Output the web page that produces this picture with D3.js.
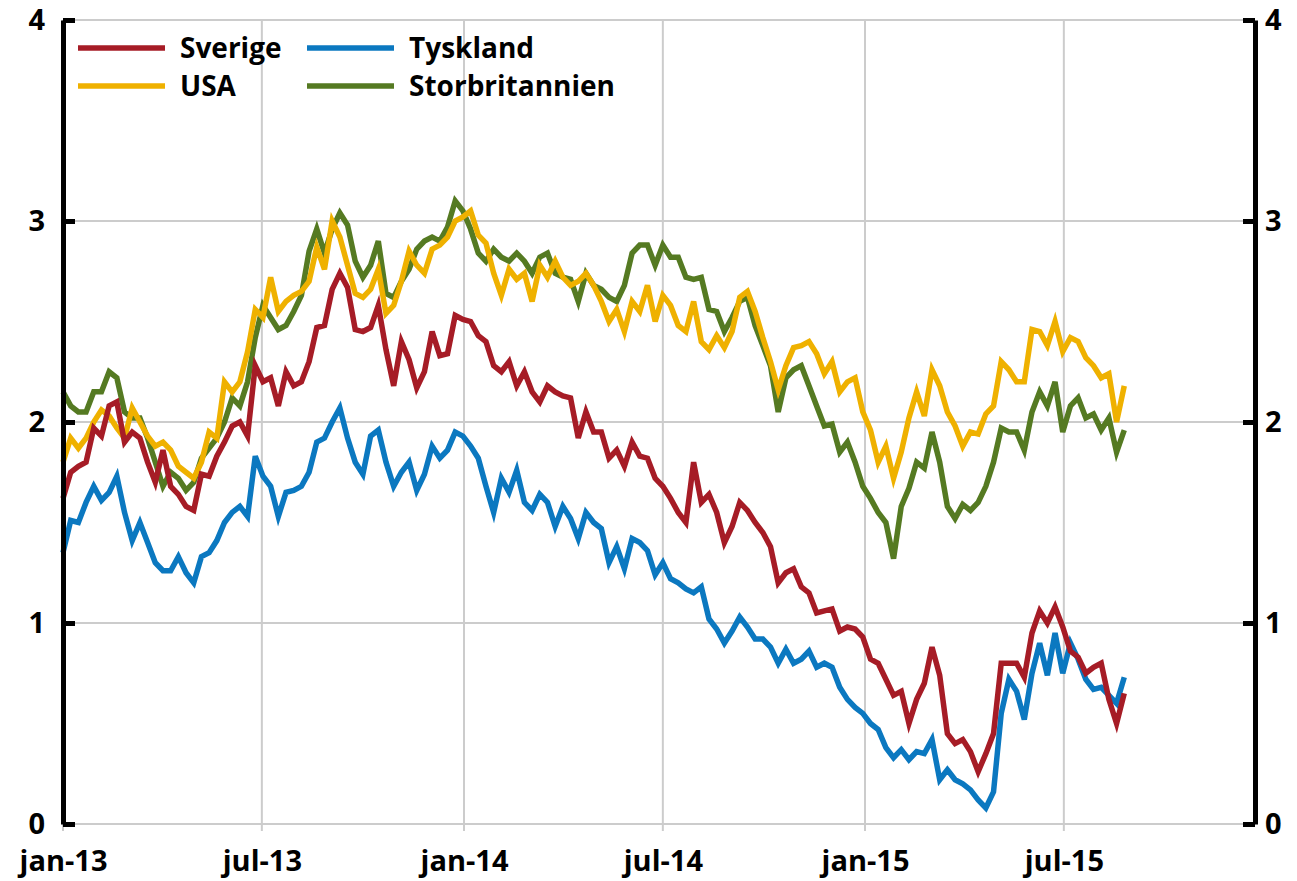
<!DOCTYPE html>
<html>
<head>
<meta charset="utf-8">
<title>Statsobligationsräntor 10 år</title>
<script src="https://cdnjs.cloudflare.com/ajax/libs/d3/7.8.5/d3.min.js"></script>
<style>
  body { margin: 0; background: #fff; }
  text { font-family: "Open Sans", sans-serif; font-weight: 700; fill: #000; }
</style>
</head>
<body>
<div id="chart"></div>
<script>
// weekly observations, starting jan 2013
var startDate = new Date(2013, 0, 1);

var sverige = [
  1.62, 1.75, 1.78, 1.8, 1.97, 1.93, 2.08, 2.1, 1.9, 1.95, 1.92, 1.8, 1.7,
  1.86, 1.68, 1.64, 1.58, 1.56, 1.74, 1.73, 1.83, 1.9, 1.98, 2.0, 1.93, 2.28,
  2.2, 2.22, 2.08, 2.25, 2.18, 2.2, 2.3, 2.47, 2.48, 2.66, 2.74, 2.67, 2.46,
  2.45, 2.47, 2.58, 2.36, 2.18, 2.4, 2.31, 2.17, 2.25, 2.45, 2.33, 2.34, 2.53,
  2.51, 2.5, 2.43, 2.4, 2.28, 2.25, 2.3, 2.18, 2.25, 2.15, 2.1, 2.18, 2.15,
  2.13, 2.12, 1.92, 2.05, 1.95, 1.95, 1.82, 1.86, 1.78, 1.9, 1.83, 1.82, 1.72,
  1.68, 1.62, 1.55, 1.5, 1.8, 1.6, 1.64, 1.55, 1.4, 1.48, 1.6, 1.56, 1.5,
  1.45, 1.38, 1.2, 1.25, 1.27, 1.18, 1.15, 1.05, 1.06, 1.07, 0.96, 0.98, 0.97,
  0.93, 0.82, 0.8, 0.72, 0.64, 0.66, 0.5, 0.62, 0.7, 0.88, 0.74, 0.45, 0.4,
  0.42, 0.36, 0.26, 0.35, 0.45, 0.8, 0.8, 0.8, 0.73, 0.95, 1.06, 1.0, 1.08,
  0.98, 0.86, 0.83, 0.75, 0.78, 0.8, 0.62, 0.5, 0.65
];

var tyskland = [
  1.35, 1.51, 1.5, 1.6, 1.68, 1.61, 1.65, 1.73, 1.55, 1.41, 1.5, 1.4, 1.3,
  1.26, 1.26, 1.33, 1.25, 1.2, 1.33, 1.35, 1.41, 1.5, 1.55, 1.58, 1.53, 1.83,
  1.73, 1.68, 1.53, 1.65, 1.66, 1.68, 1.75, 1.9, 1.92, 2.0, 2.07, 1.92, 1.8,
  1.74, 1.93, 1.96, 1.8, 1.68, 1.75, 1.8, 1.66, 1.74, 1.88, 1.82, 1.86, 1.95,
  1.93, 1.88, 1.82, 1.68, 1.55, 1.72, 1.65, 1.76, 1.6, 1.56, 1.64, 1.6, 1.48,
  1.58, 1.52, 1.42, 1.55, 1.5, 1.47, 1.3, 1.38, 1.27, 1.42, 1.4, 1.36, 1.24,
  1.3, 1.22, 1.2, 1.17, 1.15, 1.18, 1.02, 0.97, 0.9, 0.96, 1.03, 0.98, 0.92,
  0.92, 0.88, 0.8, 0.87, 0.8, 0.82, 0.86, 0.78, 0.8, 0.78, 0.68, 0.62, 0.58,
  0.55, 0.5, 0.47, 0.38, 0.33, 0.37, 0.32, 0.36, 0.35, 0.42, 0.22, 0.27, 0.22,
  0.2, 0.17, 0.12, 0.08, 0.16, 0.55, 0.72, 0.66, 0.52, 0.75, 0.9, 0.74, 0.95,
  0.75, 0.9, 0.82, 0.72, 0.67, 0.68, 0.64, 0.6, 0.73
];

var usa = [
  1.8, 1.92, 1.87, 1.92, 2.0, 2.06, 2.03, 1.97, 1.92, 2.07, 2.0, 1.93, 1.88,
  1.9, 1.86, 1.78, 1.75, 1.72, 1.8, 1.95, 1.92, 2.2, 2.15, 2.2, 2.35, 2.56,
  2.52, 2.72, 2.55, 2.6, 2.63, 2.65, 2.7, 2.87, 2.76, 3.0, 2.92, 2.78, 2.64,
  2.62, 2.66, 2.76, 2.54, 2.58, 2.7, 2.85, 2.78, 2.74, 2.86, 2.88, 2.92, 3.0,
  3.02, 3.05, 2.93, 2.89, 2.74, 2.63, 2.76, 2.71, 2.74, 2.6, 2.78, 2.72, 2.8,
  2.72, 2.68, 2.7, 2.74, 2.68, 2.6, 2.5, 2.56, 2.45, 2.6, 2.55, 2.68, 2.5,
  2.63, 2.58, 2.48, 2.45, 2.6, 2.4, 2.36, 2.43, 2.37, 2.45, 2.62, 2.65, 2.55,
  2.42, 2.3, 2.16, 2.28, 2.37, 2.38, 2.4, 2.34, 2.24, 2.3, 2.15, 2.2, 2.22,
  2.05, 1.96, 1.8, 1.88, 1.72, 1.85, 2.02, 2.15, 2.03, 2.26, 2.18, 2.05, 1.98,
  1.88, 1.95, 1.94, 2.04, 2.08, 2.3, 2.26, 2.2, 2.2, 2.46, 2.45, 2.38, 2.5,
  2.35, 2.42, 2.4, 2.32, 2.28, 2.22, 2.24, 2.0, 2.18
];

var storbritannien = [
  2.15, 2.08, 2.05, 2.05, 2.15, 2.15, 2.25, 2.22, 2.05, 2.02, 2.02, 1.92, 1.8,
  1.68, 1.75, 1.72, 1.66, 1.7, 1.82, 1.87, 1.92, 2.0, 2.12, 2.08, 2.2, 2.42,
  2.58, 2.52, 2.46, 2.48, 2.55, 2.63, 2.85, 2.96, 2.84, 2.96, 3.04, 2.98, 2.8,
  2.72, 2.78, 2.9, 2.64, 2.62, 2.7, 2.76, 2.86, 2.9, 2.92, 2.9, 2.97, 3.1,
  3.05, 2.96, 2.84, 2.8, 2.86, 2.82, 2.8, 2.84, 2.8, 2.74, 2.82, 2.84, 2.74,
  2.72, 2.71, 2.6, 2.74, 2.68, 2.66, 2.62, 2.6, 2.68, 2.84, 2.88, 2.88, 2.78,
  2.88, 2.82, 2.82, 2.72, 2.71, 2.72, 2.56, 2.55, 2.45, 2.52, 2.6, 2.62, 2.48,
  2.38, 2.28, 2.05, 2.22, 2.26, 2.28, 2.18, 2.08, 1.98, 1.99, 1.85, 1.9, 1.8,
  1.68, 1.62, 1.55, 1.5, 1.32, 1.58, 1.67, 1.8, 1.77, 1.95, 1.8, 1.58, 1.52,
  1.59, 1.56, 1.6, 1.68, 1.8, 1.97, 1.95, 1.95, 1.86, 2.05, 2.15, 2.08, 2.2,
  1.95, 2.08, 2.12, 2.02, 2.04, 1.96, 2.02, 1.85, 1.96
];

var xTickDates = [new Date(2013,0,1), new Date(2013,6,1), new Date(2014,0,1),
                  new Date(2014,6,1), new Date(2015,0,1), new Date(2015,6,1)];
var xTickLabels = ["jan-13", "jul-13", "jan-14", "jul-14", "jan-15", "jul-15"];
var yTicks = [0, 1, 2, 3, 4];

var series = [
  {name: "Storbritannien", values: storbritannien, color: "#557a22"},
  {name: "USA", values: usa, color: "#efb100"},
  {name: "Tyskland", values: tyskland, color: "#0b78c0"},
  {name: "Sverige", values: sverige, color: "#a61c26"}
];

var margin = {top: 20, right: 42, bottom: 57, left: 63},
    width = 1297 - margin.left - margin.right,
    height = 881 - margin.top - margin.bottom;

var svg = d3.select("#chart")
  .append("svg")
    .attr("width", width + margin.left + margin.right)
    .attr("height", height + margin.top + margin.bottom)
  .append("g")
    .attr("transform", "translate(" + margin.left + "," + margin.top + ")");

var x = d3.scaleTime()
  .domain([startDate, new Date(2015, 11, 22)])
  .range([0, width]);

var y = d3.scaleLinear().domain([0, 4]).range([height, 0]);

// gridlines
svg.append("g")
  .selectAll("line.h")
  .data(yTicks)
  .enter().append("line")
    .attr("x1", 0).attr("x2", width)
    .attr("y1", d => y(d)).attr("y2", d => y(d))
    .attr("stroke", "#cccccc").attr("stroke-width", 2);

svg.append("g")
  .selectAll("line.v")
  .data(xTickDates)
  .enter().append("line")
    .attr("x1", d => x(d)).attr("x2", d => x(d))
    .attr("y1", 0).attr("y2", height + 7)
    .attr("stroke", "#cccccc").attr("stroke-width", 2);

// x labels
var xAxis = svg.append("g")
  .attr("transform", "translate(0," + height + ")")
  .call(d3.axisBottom(x).tickValues(xTickDates)
    .tickFormat((d, i) => xTickLabels[i]).tickSize(0).tickPadding(26));
xAxis.select(".domain").remove();
xAxis.selectAll("text").style("font-size", "29px");

// lines
var line = d3.line()
  .x((d, i) => x(d3.timeDay.offset(startDate, 7 * i)))
  .y(d => y(d));

series.forEach(function(s) {
  svg.append("path")
    .datum(s.values)
    .attr("fill", "none")
    .attr("stroke", s.color)
    .attr("stroke-width", 5.5)
    .attr("d", line);
});

// y axes
var fmt = d3.format("d");
var yLeft = svg.append("g")
  .call(d3.axisLeft(y).tickValues(yTicks).tickFormat(fmt)
    .tickSize(-12).tickSizeOuter(0).tickPadding(18));
var yRight = svg.append("g")
  .attr("transform", "translate(" + width + ",0)")
  .call(d3.axisRight(y).tickValues(yTicks).tickFormat(fmt)
    .tickSize(-12).tickSizeOuter(0).tickPadding(10));

[yLeft, yRight].forEach(function(a) {
  a.select(".domain").attr("stroke", "#000").attr("stroke-width", 5);
  a.selectAll(".tick line").attr("stroke", "#000").attr("stroke-width", 5);
  a.selectAll("text").style("font-size", "29px");
});

// legend
var legendItems = [
  {name: "Sverige", color: "#a61c26", col: 0, row: 0},
  {name: "USA", color: "#efb100", col: 0, row: 1},
  {name: "Tyskland", color: "#0b78c0", col: 1, row: 0},
  {name: "Storbritannien", color: "#557a22", col: 1, row: 1}
];

var legend = svg.append("g").attr("transform", "translate(15,28)");
var items = legend.selectAll("g")
  .data(legendItems)
  .enter().append("g")
    .attr("transform", d => "translate(" + (d.col * 229) + "," + (d.row * 38) + ")");
items.append("line")
  .attr("x1", 0).attr("x2", 87)
  .attr("stroke", d => d.color)
  .attr("stroke-width", 5.5);
items.append("text")
  .attr("x", 102)
  .attr("dy", "0.35em")
  .style("font-size", "28px")
  .text(d => d.name);
</script>
</body>
</html>
